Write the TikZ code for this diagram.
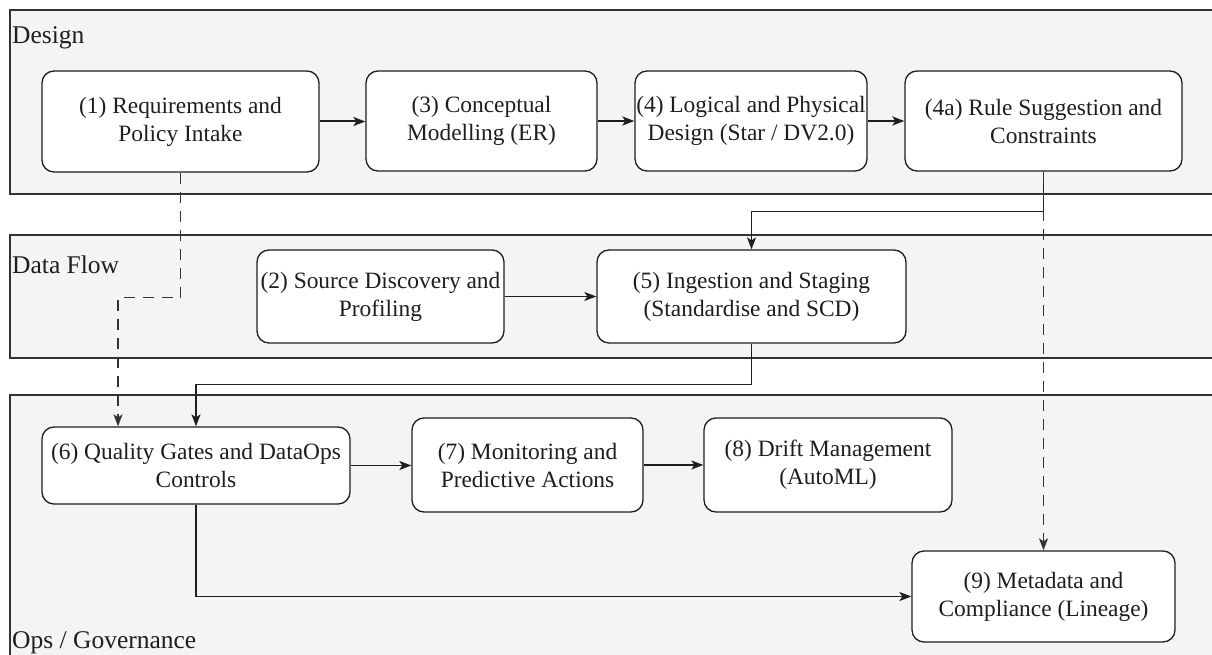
\documentclass[tikz,border=0pt]{standalone}
\usepackage{fontspec}
\setmainfont{Liberation Serif}
\usetikzlibrary{arrows.meta}

\definecolor{lanefill}{HTML}{F4F4F4}
\definecolor{laneline}{HTML}{333333}
\definecolor{ink}{HTML}{1E1E1E}

\tikzset{
  lane/.style={draw=laneline, line width=1.6pt, fill=lanefill},
  lanelabel/.style={anchor=west, inner sep=0pt, text=ink,
    font=\fontsize{25.5}{30}\selectfont},
  stepbox/.style={draw=ink, line width=1.3pt, fill=white, rounded corners=12pt,
    align=center, inner sep=0pt, text=ink,
    font=\fontsize{23.4}{28}\selectfont},
  tip/.style={-{Stealth[length=12pt,width=9pt,inset=3pt]}},
  conn/.style={draw=ink, line width=1.3pt, tip},
  strongconn/.style={draw=ink, line width=2pt, tip},
  refconn/.style={draw=laneline, line width=1.3pt, dash pattern=on 11pt off 8pt, tip},
}

\begin{document}
\begin{tikzpicture}[x=1pt,y=-1pt]
\useasboundingbox (0,0) rectangle (1212,655);

% swim lanes
\path[lane] (10,10) rectangle (1240,194);
\path[lane] (10,235) rectangle (1240,358);
\path[lane] (10,395) rectangle (1240,700);

\node[lanelabel] (ldesign) at (12,37.5) {Design};
\node[lanelabel] (lflow) at (12,264.5) {Data Flow};
\node[lanelabel] (lops) at (12,643) {Ops / Governance};

% design lane
\node[stepbox, minimum width=277pt, minimum height=101pt] (b1) at (180.5,121.5)
  {(1) Requirements and\\Policy Intake};
\node[stepbox, minimum width=231pt, minimum height=100pt] (b3) at (481.5,121)
  {(3) Conceptual\\Modelling (ER)};
\node[stepbox, minimum width=232pt, minimum height=100pt] (b4) at (751,121)
  {(4) Logical and Physical\\Design (Star / DV2.0)};
\node[stepbox, minimum width=277pt, minimum height=100pt] (b4a) at (1043.5,121)
  {(4a) Rule Suggestion and\\Constraints};

% data flow lane
\node[stepbox, minimum width=247pt, minimum height=93pt] (b2) at (380.5,296.5)
  {(2) Source Discovery and\\Profiling};
\node[stepbox, minimum width=309pt, minimum height=93pt] (b5) at (751.5,296.5)
  {(5) Ingestion and Staging\\(Standardise and SCD)};

% ops / governance lane
\node[stepbox, minimum width=308pt, minimum height=77pt] (b6) at (196,465.5)
  {(6) Quality Gates and DataOps\\Controls};
\node[stepbox, minimum width=231pt, minimum height=94pt] (b7) at (527.5,465)
  {(7) Monitoring and\\Predictive Actions};
\node[stepbox, minimum width=248pt, minimum height=94pt] (b8) at (828,465)
  {(8) Drift Management\\(AutoML)};
\node[stepbox, minimum width=263pt, minimum height=91pt] (b9) at (1043.5,596.5)
  {(9) Metadata and\\Compliance (Lineage)};

% connectors
\draw[strongconn] (b1.east) -- (b1.east -| b3.west);
\draw[strongconn] (b3.east) -- (b4.west);
\draw[strongconn] (b4.east) -- (b4a.west);
\draw[conn] (b4a.south) -- ++(0,40) -| (b5.north);
\draw[conn] (b2.east) -- (b5.west);
\draw[conn] (b5.south) -- ++(0,41) -| (b6.north);
\draw[conn] (b6.east) -- (b6.east -| b7.west);
\draw[conn] (b7.east) -- (b8.west);
\draw[conn] (b6.south) |- (b9.west);

% dashed references
\draw[refconn] (b1.south) -- ++(0,125) -| ([xshift=-78pt]b6.north);
\draw[refconn] (b4a.south) -- (b9.north);
\end{tikzpicture}
\end{document}
